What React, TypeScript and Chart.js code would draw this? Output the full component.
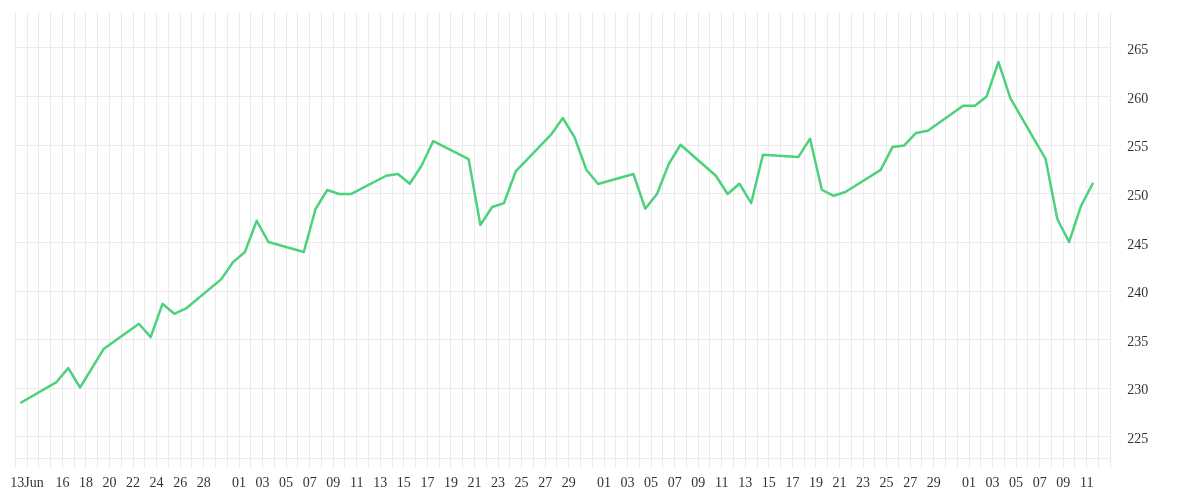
import { useEffect, useRef } from 'react';
import Chart from 'chart.js/auto';

// Serie diaria (días hábiles)
const dates = [
  '2025-06-13', '2025-06-16', '2025-06-17', '2025-06-18', '2025-06-20',
  '2025-06-23', '2025-06-24', '2025-06-25', '2025-06-26', '2025-06-27',
  '2025-06-30', '2025-07-01', '2025-07-02', '2025-07-03', '2025-07-04',
  '2025-07-07', '2025-07-08', '2025-07-09', '2025-07-10', '2025-07-11',
  '2025-07-14', '2025-07-15', '2025-07-16', '2025-07-17', '2025-07-18',
  '2025-07-21', '2025-07-22', '2025-07-23', '2025-07-24', '2025-07-25',
  '2025-07-28', '2025-07-29', '2025-07-30', '2025-07-31', '2025-08-01',
  '2025-08-04', '2025-08-05', '2025-08-06', '2025-08-07', '2025-08-08',
  '2025-08-11', '2025-08-12', '2025-08-13', '2025-08-14', '2025-08-15',
  '2025-08-18', '2025-08-19', '2025-08-20', '2025-08-21', '2025-08-22',
  '2025-08-25', '2025-08-26', '2025-08-27', '2025-08-28', '2025-08-29',
  '2025-09-01', '2025-09-02', '2025-09-03', '2025-09-04', '2025-09-05',
  '2025-09-08', '2025-09-09', '2025-09-10', '2025-09-11', '2025-09-12',
];

const closes = [
  228.54, 230.64, 232.08, 230.08, 234.03,
  236.64, 235.27, 238.69, 237.66, 238.21,
  241.23, 242.98, 244.01, 247.23, 245.04,
  244.01, 248.44, 250.39, 249.98, 249.98,
  251.86, 252.03, 251.04, 252.89, 255.43,
  253.58, 246.79, 248.64, 249.05, 252.30,
  256.08, 257.80, 255.80, 252.48, 251.01,
  252.04, 248.47, 249.98, 253.07, 255.05,
  251.86, 249.98, 251.04, 249.05, 254.02,
  253.78, 255.67, 250.42, 249.80, 250.19,
  252.46, 254.81, 254.98, 256.26, 256.49,
  259.06, 259.06, 260.02, 263.56, 259.86,
  253.60, 247.41, 245.04, 248.72, 251.04,
];

// Etiquetas del eje X por mes (día del mes)
const juneTicks = [13, 16, 18, 20, 22, 24, 26, 28];
const julyTicks = [1, 3, 5, 7, 9, 11, 13, 15, 17, 19, 21, 23, 25, 27, 29];
const augustTicks = [1, 3, 5, 7, 9, 11, 13, 15, 17, 19, 21, 23, 25, 27, 29];
const septemberTicks = [1, 3, 5, 7, 9, 11];

const yTicks = [225, 230, 235, 240, 245, 250, 255, 260, 265];

const rangeStart = '2025-06-12';
const rangeEnd = '2025-09-13';
const yMin = 222.8;
const yMax = 268.7;

const DAY = 86400000;
const toUtc = (s: string) => {
  const [y, m, d] = s.split('-').map(Number);
  return Date.UTC(y, m - 1, d);
};
const dayIndex = (s: string) => (toUtc(s) - toUtc(rangeStart)) / DAY;

const pad = (d: number) => (d < 10 ? '0' + d : String(d));

const tickLabels: Record<number, string> = {};
const addTicks = (month: string, days: number[], name?: string) => {
  days.forEach((d, i) => {
    const idx = dayIndex(`2025-${month}-${pad(d)}`);
    tickLabels[idx] = pad(d) + (i === 0 && name ? name : '');
  });
};
addTicks('06', juneTicks, 'Jun');
addTicks('07', julyTicks);
addTicks('08', augustTicks);
addTicks('09', septemberTicks);

const GRID = '#ebebeb';
const FONT = { family: "'Liberation Serif', serif", size: 14 };

export default function App() {
  const canvasRef = useRef<HTMLCanvasElement>(null);

  useEffect(() => {
    if (!canvasRef.current) return;
    const totalDays = dayIndex(rangeEnd);
    // los puntos caen medio día antes de la línea de su fecha
    const points = dates.map((d, i) => ({ x: dayIndex(d) - 0.5, y: closes[i] }));

    const chart = new Chart(canvasRef.current, {
      type: 'line',
      data: {
        datasets: [{
          data: points,
          borderColor: '#4cd27d',
          borderWidth: 2.5,
          pointRadius: 0,
          tension: 0,
          borderJoinStyle: 'round',
          borderCapStyle: 'round',
          fill: false,
        }],
      },
      options: {
        animation: false,
        responsive: true,
        maintainAspectRatio: false,
        layout: { padding: { left: 7.3, top: 4, right: 0, bottom: 0 } },
        plugins: { legend: { display: false }, tooltip: { enabled: false } },
        scales: {
          x: {
            type: 'linear',
            min: 0,
            max: totalDays,
            grid: { color: GRID, lineWidth: 1, drawTicks: true, tickLength: 10, tickColor: GRID },
            border: { display: true, color: GRID },
            ticks: {
              autoSkip: false,
              maxRotation: 0,
              padding: 7,
              color: '#333',
              font: FONT,
              callback: (value) => tickLabels[value as number] ?? '',
            },
            afterBuildTicks: (scale) => {
              const t = [];
              for (let i = 0; i <= totalDays; i++) t.push({ value: i });
              scale.ticks = t;
            },
            afterFit: (scale) => {
              scale.height = 33.7;
              scale.paddingLeft = 0;
              scale.paddingRight = 0;
            },
          },
          y: {
            position: 'right',
            min: yMin,
            max: yMax,
            grid: { color: GRID, lineWidth: 1, drawTicks: false },
            border: { display: false },
            ticks: {
              padding: 17,
              labelOffset: 2.5,
              color: '#333',
              font: FONT,
            },
            afterBuildTicks: (scale) => {
              scale.ticks = yTicks.map(v => ({ value: v }));
            },
            afterFit: (scale) => {
              scale.width = 81.7;
              scale.paddingTop = 0;
              scale.paddingBottom = 0;
            },
          },
        },
      },
    });

    return () => {
      chart.destroy();
    };
  }, []);

  return (
    <div style={{ width: '100%', height: 484, position: 'relative' }}>
      <canvas ref={canvasRef}></canvas>
    </div>
  );
}
